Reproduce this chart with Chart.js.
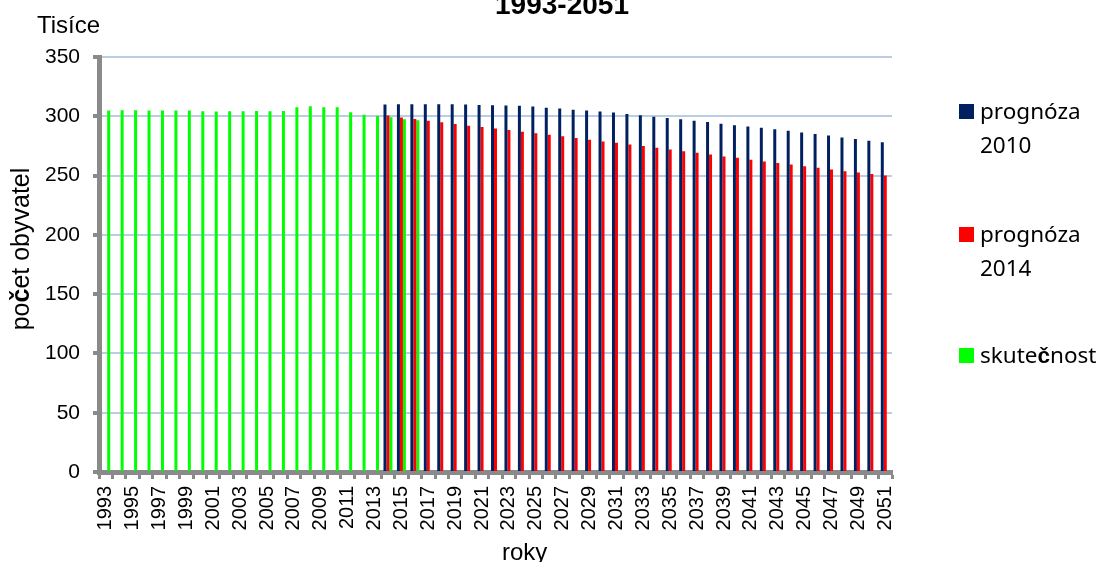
<!DOCTYPE html>
<html lang="cs">
<head>
<meta charset="utf-8">
<title>Počet obyvatel 1993-2051</title>
<script src="https://cdn.jsdelivr.net/npm/chart.js@4.4.1/dist/chart.umd.min.js"></script>
<style>
  html, body { margin: 0; padding: 0; background: #fff; overflow: hidden; }
  #wrap { position: relative; width: 1099px; height: 562px; }
</style>
</head>
<body>
<div id="wrap"><canvas id="c" width="1099" height="562"></canvas></div>
<script>
// Years on the category axis
const years = [];
for (let y = 1993; y <= 2051; y++) years.push(String(y));

// Series names (legend)
const seriesNames = ['prognóza 2010', 'prognóza 2014', 'skutečnost'];

// Actual population 1993-2016, thousands
const actual = [
  304.8, 305.1, 305.0, 304.8, 304.8, 304.8, 304.8, 304.2, 304.0, 304.2,
  304.2, 304.5, 304.2, 304.5, 307.6, 308.5, 307.6, 307.6, 303.4, 301.4,
  300.2, 299.2, 297.5, 296.6
];

// Projection made in 2010, years 2014-2051, thousands
const forecast2010 = [
  309.9, 310.2, 310.2, 310.2, 310.2, 310.2, 309.9, 309.6, 309.3, 309.0,
  308.8, 308.2, 307.3, 306.5, 305.6, 304.8, 304.0, 303.1, 302.0, 300.8,
  299.7, 298.6, 297.4, 296.2, 295.2, 293.8, 292.4, 291.4, 290.3, 289.0,
  287.9, 286.4, 285.0, 283.9, 282.2, 280.8, 279.4, 278.2
];

// Projection made in 2014, years 2014-2051, thousands
const forecast2014 = [
  300.6, 298.9, 297.7, 296.3, 294.9, 293.5, 292.1, 291.0, 289.8, 288.4,
  287.0, 285.6, 284.5, 283.1, 281.6, 280.2, 278.8, 277.7, 276.3, 275.0,
  273.5, 271.9, 270.6, 269.2, 267.8, 266.1, 265.0, 263.3, 261.9, 260.5,
  259.3, 257.9, 256.5, 255.1, 253.7, 252.5, 251.4, 250.0
];

// Y-axis tick values
const yTicks = [0, 50, 100, 150, 200, 250, 300, 350];

// Place a partial series onto the full year axis
function alignToYears(firstYear, values) {
  return years.map(y => {
    const i = Number(y) - firstYear;
    return (i >= 0 && i < values.length) ? values[i] : null;
  });
}

const AXIS_GRAY = '#8a8a8a';
const GRID_BLUE = '#b9cde5';
const SANS = '"Liberation Sans", Arial, sans-serif';
const LEGEND_FONT = '"Noto Sans", "Open Sans", sans-serif';

// Draws a run of text segments, each with its own font
function drawRuns(ctx, runs, x, y, align) {
  ctx.textAlign = 'left';
  let total = 0;
  const widths = runs.map(r => { ctx.font = r[1]; const w = ctx.measureText(r[0]).width; total += w; return w; });
  let cx = align === 'center' ? x - total / 2 : x;
  runs.forEach((r, i) => { ctx.font = r[1]; ctx.fillText(r[0], cx, y); cx += widths[i]; });
}

// Splits text so that every "č" is set in bold
function withBoldC(text, font, boldFont) {
  const runs = [];
  text.split(/(č)/).forEach(s => { if (s) runs.push([s, s === 'č' ? boldFont : font]); });
  return runs;
}

const annotations = {
  id: 'annotations',
  afterDraw(chart) {
    const ctx = chart.ctx;
    ctx.save();
    ctx.fillStyle = '#000';
    ctx.textBaseline = 'alphabetic';

    // Chart title
    ctx.font = 'bold 28px ' + SANS;
    ctx.textAlign = 'center';
    ctx.fillText('1993-2051', 562, 14);

    // Unit label
    ctx.font = '24px ' + SANS;
    ctx.textAlign = 'left';
    ctx.fillText('Tisíce', 37, 33);

    // X-axis title
    ctx.fillText('roky', 502, 560);

    // Y-axis title, rotated
    ctx.save();
    ctx.translate(29, 249);
    ctx.rotate(-Math.PI / 2);
    drawRuns(ctx, withBoldC('počet obyvatel', '25px ' + SANS, 'bold 25px ' + SANS), 0, 0, 'center');
    ctx.restore();

    // Legend
    const baselines = [119, 242, 363];
    chart.data.datasets.forEach((ds, i) => {
      const base = baselines[i];
      ctx.fillStyle = ds.backgroundColor;
      ctx.fillRect(959, base - 15, 15, 15);
      ctx.fillStyle = '#000';
      ds.label.split(' ').forEach((line, k) => {
        drawRuns(ctx, withBoldC(line, '22.5px ' + LEGEND_FONT, 'bold 22.5px ' + SANS), 980, base + k * 34, 'left');
      });
    });
    ctx.restore();
  }
};

new Chart(document.getElementById('c'), {
  type: 'bar',
  data: {
    labels: years,
    datasets: [
      { label: seriesNames[0], data: alignToYears(2014, forecast2010), backgroundColor: '#002060' },
      { label: seriesNames[1], data: alignToYears(2014, forecast2014), backgroundColor: '#ff0000' },
      { label: seriesNames[2], data: alignToYears(1993, actual), backgroundColor: '#00ff00' }
    ]
  },
  options: {
    responsive: false,
    animation: false,
    devicePixelRatio: 1,
    layout: { padding: { left: 0, right: 207, top: 57, bottom: 0 } },
    datasets: {
      bar: { categoryPercentage: 0.667, barPercentage: 1.0, borderWidth: 0 }
    },
    plugins: {
      legend: { display: false },
      title: { display: false },
      tooltip: { enabled: false }
    },
    scales: {
      x: {
        afterFit(scale) { scale.height = 90; },
        grid: {
          display: true,
          offset: true,
          drawOnChartArea: false,
          drawTicks: true,
          tickLength: 7,
          tickColor: AXIS_GRAY,
          tickWidth: 3,
          color: 'rgba(0,0,0,0)'
        },
        border: { display: true, color: AXIS_GRAY, width: 5 },
        ticks: {
          autoSkip: false,
          minRotation: 90,
          maxRotation: 90,
          padding: 7,
          color: '#000',
          font: { family: SANS, size: 20 },
          callback(value, index) { return index % 2 === 0 ? years[index] : ''; }
        }
      },
      y: {
        min: 0,
        max: 350,
        afterFit(scale) { scale.width = 99; },
        afterBuildTicks(scale) { scale.ticks = yTicks.map(v => ({ value: v })); },
        grid: {
          color: GRID_BLUE,
          lineWidth: 2,
          drawTicks: true,
          tickLength: 6,
          tickColor: AXIS_GRAY,
          tickWidth: 4
        },
        border: { display: true, color: AXIS_GRAY, width: 5 },
        ticks: {
          padding: 13,
          color: '#000',
          font: { family: SANS, size: 21 }
        }
      }
    }
  },
  plugins: [annotations]
});
</script>
</body>
</html>
